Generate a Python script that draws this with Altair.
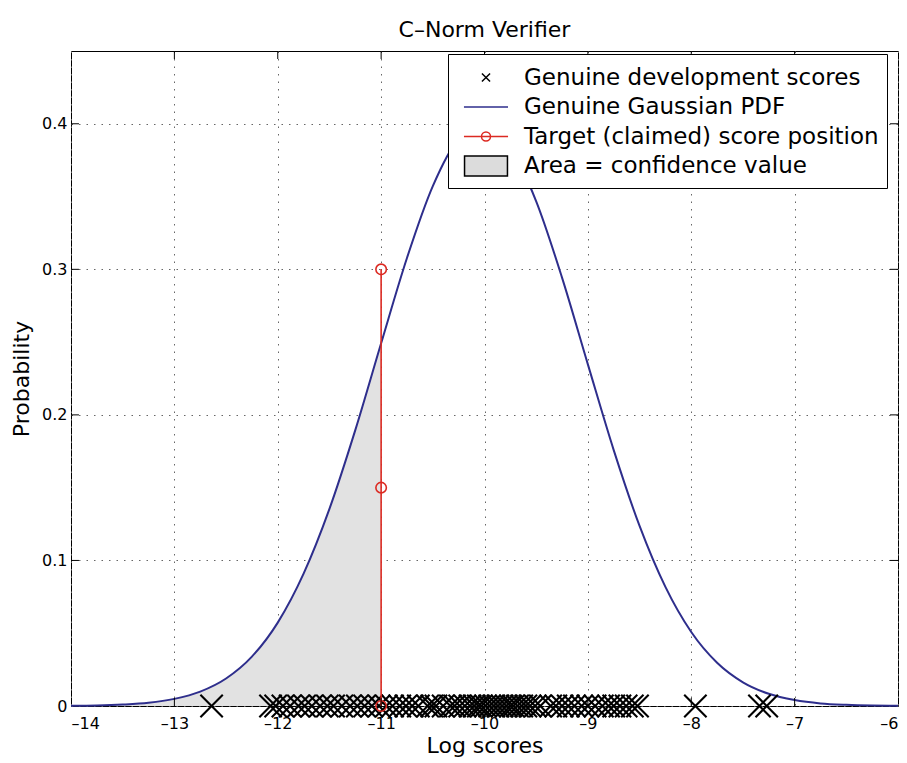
import altair as alt
import pandas as pd

FONT = "DejaVu Sans"

# ---- data ----
x_ticks = [-14, -13, -12, -11, -10, -9, -8, -7, -6]
y_ticks = [0, 0.1, 0.2, 0.3, 0.4]

# Genuine Gaussian PDF (read at 0.25 steps)
curve_x = [-14.0, -13.75, -13.5, -13.25, -13.0, -12.75, -12.5, -12.25, -12.0,
           -11.75, -11.5, -11.25, -11.0, -10.75, -10.5, -10.25, -10.0,
           -9.75, -9.5, -9.25, -9.0, -8.75, -8.5, -8.25, -8.0,
           -7.75, -7.5, -7.25, -7.0, -6.75, -6.5, -6.25, -6.0]
curve_y = [0.0002, 0.0004, 0.0010, 0.0022, 0.0049, 0.0099, 0.0189, 0.0339, 0.0573,
           0.0909, 0.1354, 0.1895, 0.2492, 0.3078, 0.3572, 0.3894, 0.3987,
           0.3836, 0.3467, 0.2943, 0.2347, 0.1758, 0.1237, 0.0818, 0.0508,
           0.0297, 0.0163, 0.0084, 0.0041, 0.0018, 0.0008, 0.0003, 0.0001]

# Genuine development scores (x positions of the crosses)
dev_scores = [-12.64,
              -12.07, -12.02, -11.95, -11.88, -11.80, -11.74, -11.67, -11.59, -11.52,
              -11.46, -11.38, -11.30, -11.23, -11.16, -11.09, -11.02, -10.95, -10.89,
              -10.82, -10.76, -10.70, -10.64, -10.55, -10.51, -10.47, -10.40, -10.33,
              -10.29, -10.24, -10.19, -10.14, -10.10, -10.06, -10.03, -9.99, -9.95,
              -9.91, -9.87, -9.83, -9.79, -9.75, -9.72, -9.68, -9.64, -9.60, -9.56,
              -9.51, -9.46, -9.36, -9.31, -9.25, -9.19, -9.13, -9.06, -9.00, -8.93,
              -8.86, -8.80, -8.75, -8.69, -8.63, -8.57, -8.52,
              -7.96, -7.34, -7.27]

# Target (claimed) score stem
target_x = -11.0
stem_y = [0.0, 0.15, 0.3]

legend_labels = ["Genuine development scores", "Genuine Gaussian PDF",
                 "Target (claimed) score position", "Area = confidence value"]

# ---- tables ----
curve_df = pd.DataFrame({"x": curve_x, "y": curve_y})
area_df = curve_df[curve_df["x"] <= target_x]
dev_df = pd.DataFrame({"x": dev_scores, "y": [0.0] * len(dev_scores)})
stem_pts = pd.DataFrame({"x": [target_x] * len(stem_y), "y": stem_y})
stem_line = pd.DataFrame({"x": [target_x], "y": [min(stem_y)], "y2": [max(stem_y)]})
leg_df = pd.DataFrame({"series": legend_labels, "x": [-20.0] * 4, "y": [0.2] * 4})

# inward tick marks (MATLAB style)
tlen_y = 0.0055
tlen_x = 0.077
tick_rows = []
for t in x_ticks[1:-1]:
    tick_rows.append({"x": t, "x2": t, "y": 0.0, "y2": tlen_y})
    tick_rows.append({"x": t, "x2": t, "y": 0.45, "y2": 0.45 - tlen_y})
for t in y_ticks[1:]:
    tick_rows.append({"x": -14.0, "x2": -14.0 + tlen_x, "y": t, "y2": t})
    tick_rows.append({"x": -6.0, "x2": -6.0 - tlen_x, "y": t, "y2": t})
ticks_df = pd.DataFrame(tick_rows)

# ---- scales / axes ----
xs = alt.Scale(domain=[-14, -6], nice=False, zero=False)
ys = alt.Scale(domain=[0, 0.45], nice=False, zero=False)
xaxis = alt.Axis(title="Log scores", values=x_ticks,
                 labelExpr="datum.value < 0 ? '\u2013' + (-datum.value) : '' + datum.value",
                 titleX=413.5, titleY=46, titleBaseline="alphabetic", labelPadding=9)
yaxis = alt.Axis(title="Probability", values=y_ticks,
                 labelExpr="datum.value == 0 ? '0' : format(datum.value, '.1f')",
                 titleX=-43, titleY=327.5, titleBaseline="alphabetic", labelPadding=4)

def X(field="x"):
    return alt.X(f"{field}:Q", scale=xs, axis=xaxis)

def Y(field="y"):
    return alt.Y(f"{field}:Q", scale=ys, axis=yaxis)

# ---- layers ----
area = alt.Chart(area_df).mark_area(color="#e2e2e2", interpolate="monotone", opacity=1).encode(
    x=X(), y=Y())

curve = alt.Chart(curve_df).mark_line(color="#2e2e8c", strokeWidth=2, interpolate="monotone").encode(
    x=X(), y=Y())

xpath = "M-1,-1L1,1M-1,1L1,-1"
dev = alt.Chart(dev_df).mark_point(shape=xpath, size=500, stroke="black", strokeWidth=2.1,
                                   filled=False, opacity=1).encode(x=X(), y=Y())

stem = alt.Chart(stem_line).mark_rule(color="#dc2a22", strokeWidth=1.6).encode(
    x=X(), y=Y(), y2="y2:Q")

circles = alt.Chart(stem_pts).mark_point(shape="circle", size=110, stroke="#dc2a22",
                                         strokeWidth=1.6, filled=False, opacity=1).encode(
    x=X(), y=Y())

ticks = alt.Chart(ticks_df).mark_rule(color="black", strokeWidth=1).encode(
    x=X(), x2="x2:Q", y=Y(), y2="y2:Q")

# legend symbols (shifted right inside their slot)
leg_paths = [
    "M0.72,-0.28L1.28,0.28M0.72,0.28L1.28,-0.28",
    "M-0.52,0L2.52,0",
    "M-0.52,0L2.52,0M1.31,0A0.31,0.31,0,1,1,0.69,0A0.31,0.31,0,1,1,1.31,0",
    "M-0.48,-0.69L2.48,-0.69L2.48,0.69L-0.48,0.69Z",
]
leg_fills = ["transparent", "transparent", "transparent", "#dcdcdc"]
leg_strokes = ["black", "#2e2e8c", "#dc2a22", "black"]

leg = alt.Legend(title=None, orient="none", legendX=377, legendY=3, direction="vertical",
                 labelFont=FONT, labelFontSize=23, labelColor="black", labelLimit=800,
                 symbolSize=841, symbolStrokeWidth=1.5, symbolOpacity=1,
                 labelOffset=37, rowPadding=1.5, padding=8,
                 strokeColor="black", fillColor="white")

legend_layer = alt.Chart(leg_df).mark_point(clip=True, opacity=1, strokeWidth=1.5, size=841).encode(
    x=X(), y=Y(),
    shape=alt.Shape("series:N", scale=alt.Scale(domain=legend_labels, range=leg_paths), legend=leg),
    fill=alt.Fill("series:N", scale=alt.Scale(domain=legend_labels, range=leg_fills), legend=leg),
    stroke=alt.Stroke("series:N", scale=alt.Scale(domain=legend_labels, range=leg_strokes), legend=leg),
)

chart = alt.layer(area, curve, dev, stem, circles, ticks, legend_layer).properties(
    width=827, height=655,
    autosize="none",
    padding={"left": 71, "top": 51, "right": 9, "bottom": 57},
    title=alt.TitleParams("C\u2013Norm Verifier", font=FONT, fontSize=22, fontWeight="normal",
                          color="black", offset=9, anchor="middle"),
    background="white",
).configure_view(
    stroke="black", strokeWidth=1
).configure_axis(
    domain=False, ticks=False, tickSize=0,
    grid=True, gridColor="#666666", gridDash=[1.5, 6], gridWidth=1, gridOpacity=1,
    labelFont=FONT, labelFontSize=16, labelColor="black",
    titleFont=FONT, titleFontSize=22, titleFontWeight="normal", titleColor="black",
)

chart.save("out.html", embed_options={"renderer": "svg", "actions": False})
